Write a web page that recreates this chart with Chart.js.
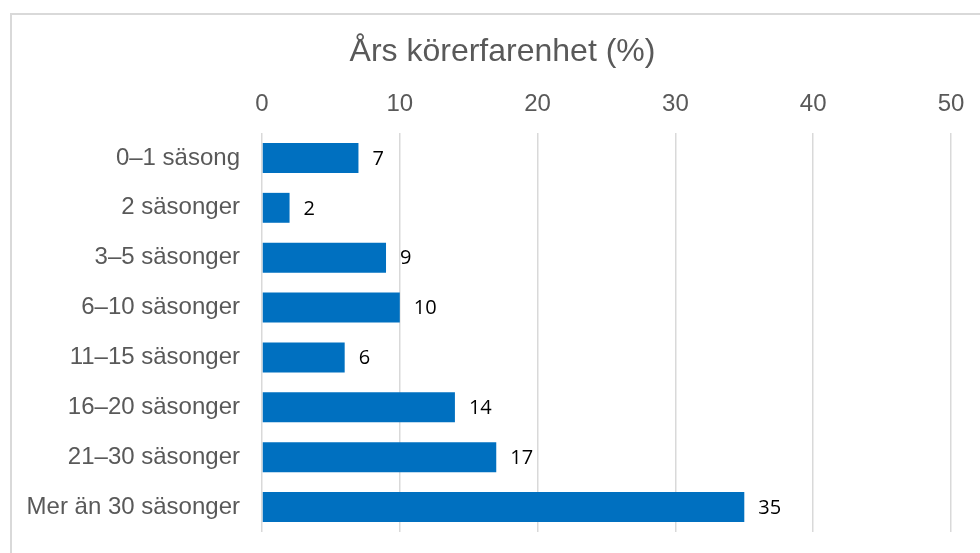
<!DOCTYPE html>
<html>
<head>
<meta charset="utf-8">
<script src="https://cdn.jsdelivr.net/npm/chart.js@4"></script>
<style>
  html, body { margin: 0; background: #fff; overflow: hidden; }
  #frame { position: absolute; left: 10px; top: 13px; width: 1000px; height: 600px; border: 2px solid #d9d9d9; }
  #wrap { position: absolute; left: 0; top: 0; width: 980px; height: 553px; }
</style>
</head>
<body>
<div id="frame"></div>
<div id="wrap"><canvas id="experience" width="980" height="553"></canvas></div>
<script>
const categories = ['0–1 säsong', '2 säsonger', '3–5 säsonger', '6–10 säsonger', '11–15 säsonger', '16–20 säsonger', '21–30 säsonger', 'Mer än 30 säsonger'];
const shares = [7, 2, 9, 10, 6, 14, 17, 35];

// value labels to the right of each bar, title nudged to the frame's centre
const barLabels = {
    id: 'barLabels',
    afterLayout(chart) {
        if (chart.titleBlock) {
            chart.titleBlock.left += 27;
            chart.titleBlock.right += 27;
        }
    },
    afterDatasetsDraw(chart) {
        const ctx = chart.ctx;
        const meta = chart.getDatasetMeta(0);
        ctx.save();
        ctx.font = '20px "Open Sans", "Liberation Sans", sans-serif';
        ctx.fillStyle = '#000';
        ctx.textAlign = 'left';
        ctx.textBaseline = 'middle';
        meta.data.forEach((bar, i) => {
            ctx.fillText(shares[i], bar.x + 14, bar.y + 1);
        });
        ctx.restore();
    }
};

const experience = document.getElementById("experience");

new Chart(experience, {
    type: 'bar',
    data: {
        labels: categories,
        datasets: [{
            label: 'Års körerfarenhet (%)',
            data: shares,
            backgroundColor: '#0070C0',
            barPercentage: 0.6,
            categoryPercentage: 1
        }]
    },
    options: {
        indexAxis: 'y',
        responsive: false,
        animation: false,
        layout: {
            padding: { top: 0, right: 29, bottom: 21, left: 0 }
        },
        plugins: {
            legend: { display: false },
            tooltip: { enabled: false },
            title: {
                display: true,
                text: 'Års körerfarenhet (%)',
                color: '#595959',
                font: { family: '"Liberation Sans", Arial, sans-serif', size: 32, weight: 'normal', lineHeight: 1.2 },
                padding: { top: 33, bottom: 0 }
            }
        },
        scales: {
            x: {
                position: 'top',
                min: 0,
                max: 50,
                ticks: {
                    stepSize: 10,
                    color: '#595959',
                    padding: 14,
                    font: { family: '"Liberation Sans", Arial, sans-serif', size: 24 }
                },
                grid: { color: '#d9d9d9', lineWidth: 1.5, drawTicks: false },
                border: { display: false },
                afterFit(scale) { scale.height = 61.6; }
            },
            y: {
                ticks: {
                    color: '#595959',
                    padding: 22,
                    font: { family: '"Liberation Sans", Arial, sans-serif', size: 24 }
                },
                grid: { display: false, drawTicks: false },
                border: { display: false },
                afterFit(scale) {
                    scale.width = 262;
                    scale.paddingTop = 0;
                    scale.paddingBottom = 0;
                }
            }
        }
    },
    plugins: [barLabels]
});
</script>
</body>
</html>
